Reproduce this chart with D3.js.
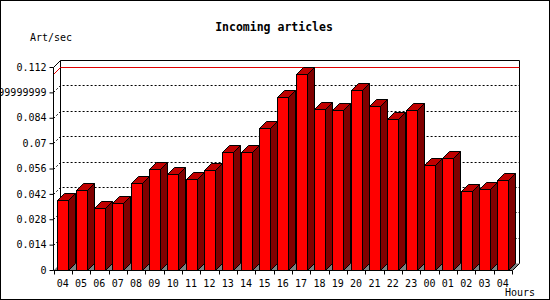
<!DOCTYPE html>
<html>
<head>
<meta charset="utf-8">
<script src="https://cdn.jsdelivr.net/npm/d3@7"></script>
<style>
  body { margin: 0; background: #fff; }
  text { font-family: "DejaVu Sans Mono", monospace; font-size: 10px; fill: #000; }
</style>
</head>
<body>
<svg width="550" height="300"></svg>
<script>
// hours shown on the x axis
var hours = ['04','05','06','07','08','09','10','11','12','13','14','15','16','17','18','19','20','21','22','23','00','01','02','03','04'];
// articles per second
var artSec = [0.0386,0.0441,0.0342,0.0370,0.0480,0.0557,0.0531,0.0502,0.0550,0.0651,0.0651,0.0783,0.0953,0.1081,0.0888,0.0881,0.0993,0.0905,0.0833,0.0883,0.0579,0.0618,0.0436,0.0445,0.0497];
var yTicks = [0,0.014,0.028,0.042,0.056,0.07,0.084,0.098,0.112];
var yTickLabels = ['0','0.014','0.028','0.042','0.056','0.07','0.084','0.09799999999','0.112'];

var svg = d3.select('svg');
var depth = 7;

var x = d3.scaleBand().domain(d3.range(hours.length)).range([53.5, 512]).padding(0);
var y = d3.scaleLinear().domain([0, 0.112]).range([270, 67]);

var plotL = 53.5, plotR = 512.5, plotB = 270.5, plotT = 67.5;

// outer frame
svg.append('rect')
    .attr('x', 0.5).attr('y', 0.5)
    .attr('width', 549).attr('height', 299)
    .attr('fill', 'none').attr('stroke', '#000');

// title
svg.append('text')
    .attr('x', 274).attr('y', 31)
    .attr('text-anchor', 'middle')
    .style('font-weight', 'bold').style('font-size', '11.5px')
    .text('Incoming articles');

svg.append('text').attr('x', 30).attr('y', 41).text('Art/sec');
svg.append('text').attr('x', 505).attr('y', 296).text('Hours');

// floor
svg.append('polygon')
    .attr('points', [[plotL, plotB], [plotL + depth, plotB - depth], [plotR + depth, plotB - depth], [plotR, plotB]].join(' '))
    .attr('fill', '#808080');

// back wall
svg.append('path')
    .attr('d', 'M' + (plotL + depth) + ',' + (plotB - depth) + 'V' + (plotT - depth) + 'H' + (plotR + depth) + 'V' + (plotB - depth))
    .attr('fill', 'none').attr('stroke', '#000');

// dotted grid lines
svg.selectAll('.grid')
    .data(yTicks.slice(1, -1))
    .enter()
    .append('polyline')
    .attr('points', function(d){
        var yy = Math.round(y(d)) + 0.5;
        return [[plotL, yy], [plotL + depth, yy - depth], [plotR + depth, yy - depth]].join(' ');
    })
    .attr('fill', 'none').attr('stroke', '#000').attr('stroke-dasharray', '2,2');

// max line
var maxV = d3.max(artSec);
var ym = Math.round(y(maxV)) + 0.5;
svg.append('polyline')
    .attr('points', [[plotL, ym], [plotL + depth, ym - depth], [plotR + depth, ym - depth]].join(' '))
    .attr('fill', 'none').attr('stroke', '#e00000');

// bars
var bars = svg.selectAll('.bar')
    .data(artSec)
    .enter()
    .append('g')
    .attr('class', 'bar');

bars.each(function(d, i){
    var g = d3.select(this);
    var c = x(i) + x.bandwidth() / 2;
    var x0 = Math.round(c - 5.5) + 0.5, x1 = x0 + 11;
    var yt = Math.round(y(d)) + 0.5, yb = plotB;
    g.append('polygon')
        .attr('points', [[x1, yt], [x1 + depth, yt - depth], [x1 + depth, yb - depth], [x1, yb]].join(' '))
        .attr('fill', '#800000').attr('stroke', '#000');
    g.append('polygon')
        .attr('points', [[x0, yt], [x0 + depth, yt - depth], [x1 + depth, yt - depth], [x1, yt]].join(' '))
        .attr('fill', '#c00000').attr('stroke', '#000');
    g.append('rect')
        .attr('x', x0).attr('y', yt)
        .attr('width', x1 - x0).attr('height', yb - yt)
        .attr('fill', '#ff0000').attr('stroke', '#000');
});

// front axes
svg.append('path')
    .attr('d', 'M' + (plotL + depth) + ',' + (plotT - depth) + 'L' + plotL + ',' + plotT + 'V' + plotB + 'H' + plotR + 'L' + (plotR + depth) + ',' + (plotB - depth))
    .attr('fill', 'none').attr('stroke', '#000');

var yAxis = svg.append('g')
    .attr('transform', 'translate(' + plotL + ',0)')
    .call(d3.axisLeft(y).tickValues(yTicks).tickFormat(function(d, i){ return yTickLabels[i]; }).tickSize(4).tickSizeOuter(0).tickPadding(3));
yAxis.select('.domain').remove();

var xAxis = svg.append('g')
    .attr('transform', 'translate(0,' + plotB + ')')
    .call(d3.axisBottom(x).tickFormat(function(d){ return hours[d]; }).tickSize(0).tickPadding(9));
xAxis.select('.domain').remove();

// x ticks on band edges
svg.selectAll('.xt')
    .data(d3.range(hours.length + 1))
    .enter()
    .append('line')
    .attr('x1', function(d){ return Math.round(x.range()[0] + d * x.step()) + 0.5; })
    .attr('x2', function(d){ return Math.round(x.range()[0] + d * x.step()) + 0.5; })
    .attr('y1', plotB).attr('y2', plotB + 4)
    .attr('stroke', '#000');

svg.selectAll('.tick text').style('font-family', '"DejaVu Sans Mono", monospace').style('font-size', '10px');
</script>
</body>
</html>
